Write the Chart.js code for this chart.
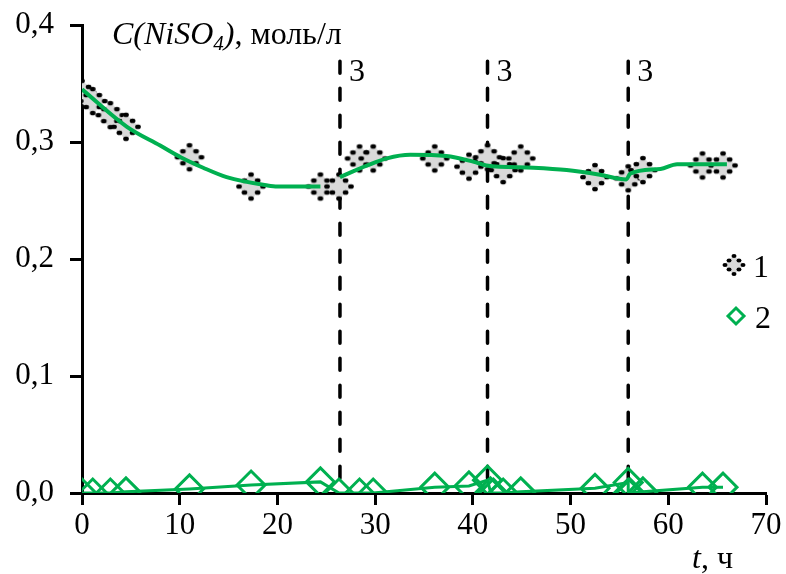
<!DOCTYPE html>
<html>
<head>
<meta charset="utf-8">
<script src="https://cdn.jsdelivr.net/npm/chart.js@4/dist/chart.umd.min.js"></script>
<style>
  html, body { margin: 0; padding: 0; background: #fff; }
  #wrap { width: 786px; height: 574px; position: relative; }
</style>
</head>
<body>
<div id="wrap"><canvas id="chart"></canvas></div>
<script>
// Series 1: NiSO4 concentration, mol/l, measured over time (h)
const timesNi = [0, 1.1, 2.9, 4.5, 11, 17.3, 24.4, 26.3, 28.4, 29.8, 36.1, 39.6, 41.5, 43.1, 44.9, 52.5, 55.9, 57.4, 63.5, 65.6];
const concNi  = [0.342, 0.335, 0.323, 0.313, 0.287, 0.262, 0.262, 0.262, 0.286, 0.286, 0.286, 0.279, 0.287, 0.276, 0.286, 0.270, 0.269, 0.276, 0.280, 0.280];

// Series 2: second component, mol/l
const times2 = [0, 1.1, 2.9, 4.5, 11, 17.3, 24.4, 26.3, 28.4, 29.8, 36.1, 39.6, 41.5, 41.8, 42.1, 43.1, 44.9, 52.5, 55.9, 55.9, 56.1, 57.4, 63.5, 65.6];
const conc2  = [0, 0, 0, 0.001, 0.0035, 0.0068, 0.0095, 0, 0, 0, 0.005, 0.006, 0.011, 0.001, 0, 0, 0.001, 0.004, 0.009, 0, 0, 0.001, 0.005, 0.005];

// Smoothed trend of series 1: before the first addition and after it
const trendTimesA = [0, 4.6, 8.0, 10.1, 12.4, 14.8, 18.9, 20, 24.4];
const trendA      = [0.345, 0.313, 0.297, 0.287, 0.278, 0.270, 0.263, 0.262, 0.262];
const trendTimesB = [26.4, 29.2, 31.2, 33.6, 37.3, 40.1, 41.4, 46.2, 49.6, 53.0, 55.7, 56.1, 59.2, 60.9, 66.0];
const trendB      = [0.270, 0.280, 0.286, 0.289, 0.288, 0.283, 0.280, 0.278, 0.276, 0.272, 0.268, 0.273, 0.277, 0.281, 0.281];

// Moments of reagent addition (marked "3")
const additionTimes = [26.4, 41.5, 55.9];
const additionLabel = '3';
const additionTop = 0.369;

// Axis ticks
const xTicks = [0, 10, 20, 30, 40, 50, 60, 70];
const yTicks = [0, 0.1, 0.2, 0.3, 0.4];

const seriesLabels = ['1', '2'];

const GREEN = '#00b050';
const SERIF = "'Liberation Serif', 'Times New Roman', serif";
const FS = 32;
const TICK_FS = 31;

const pts = (xs, ys) => xs.map((x, i) => ({ x: x, y: ys[i] }));

// Gray diamond marker with a dotted black outline
function dottedDiamond(r, dot) {
  const s = 2 * r + 10, c = document.createElement('canvas');
  c.width = s; c.height = s;
  const g = c.getContext('2d');
  const m = s / 2;
  g.fillStyle = '#d9d9d9';
  g.beginPath();
  g.moveTo(m, m - r); g.lineTo(m + r, m); g.lineTo(m, m + r); g.lineTo(m - r, m);
  g.closePath(); g.fill();
  g.fillStyle = '#000';
  const d = [[0, -1], [0.55, -0.5], [1, 0], [0.55, 0.5], [0, 1], [-0.55, 0.5], [-1, 0], [-0.55, -0.5]];
  d.forEach(([a, b]) => {
    g.beginPath();
    g.ellipse(m + a * (r - 1), m + b * (r - 1), dot * 1.25, dot, 0, 0, Math.PI * 2);
    g.fill();
  });
  return c;
}
const markerNi = dottedDiamond(13, 2.3);
const legendNi = dottedDiamond(10, 2.0);

const datasets = [
  {
    label: 'trendA', data: pts(trendTimesA, trendA),
    borderColor: GREEN, borderWidth: 4, pointRadius: 0, fill: false,
    cubicInterpolationMode: 'monotone', order: 0
  },
  {
    label: 'trendB', data: pts(trendTimesB, trendB),
    borderColor: GREEN, borderWidth: 4, pointRadius: 0, fill: false,
    cubicInterpolationMode: 'monotone', order: 0
  },
  {
    label: seriesLabels[0], data: pts(timesNi, concNi),
    showLine: false, pointStyle: markerNi, pointRadius: 13, pointHoverRadius: 13,
    order: 1
  },
  {
    label: seriesLabels[1], data: pts(times2, conc2),
    borderColor: GREEN, borderWidth: 3, tension: 0,
    pointStyle: 'rectRot', pointRadius: 14, pointHoverRadius: 14,
    pointBorderColor: GREEN, pointBackgroundColor: 'rgba(0,0,0,0)', pointBorderWidth: 3,
    order: 2
  }
].concat(additionTimes.map((t, i) => ({
  label: 'add' + i,
  data: [{ x: t, y: additionTop }, { x: t, y: 0 }],
  borderColor: '#000', borderWidth: 3.5, borderDash: [12, 15], borderCapStyle: 'round',
  pointRadius: 0, fill: false, order: 5
})));

const annotate = {
  id: 'annotate',
  afterDraw(chart) {
    const ctx = chart.ctx;
    const xs = chart.scales.x;
    ctx.save();
    ctx.fillStyle = '#000';
    ctx.textBaseline = 'alphabetic';
    ctx.textAlign = 'left';

    // "3" next to each addition line
    ctx.font = FS + 'px ' + SERIF;
    additionTimes.forEach(t => {
      ctx.fillText(additionLabel, xs.getPixelForValue(t) + 9, 81);
    });

    // Y-axis title: C(NiSO4), моль/л
    let x = 112; const base = 44;
    ctx.font = 'italic ' + FS + 'px ' + SERIF;
    ctx.fillText('C(NiSO', x, base); x += ctx.measureText('C(NiSO').width;
    ctx.font = 'italic ' + Math.round(FS * 0.66) + 'px ' + SERIF;
    ctx.fillText('4', x, base + 6); x += ctx.measureText('4').width;
    ctx.font = 'italic ' + FS + 'px ' + SERIF;
    ctx.fillText(')', x, base); x += ctx.measureText(')').width;
    ctx.font = FS + 'px ' + SERIF;
    ctx.fillText(', моль/л', x, base);

    // X-axis title: t, ч
    x = 692;
    ctx.font = 'italic ' + FS + 'px ' + SERIF;
    ctx.fillText('t', x, 568); x += ctx.measureText('t').width;
    ctx.font = FS + 'px ' + SERIF;
    ctx.fillText(', ч', x, 568);

    // Legend
    ctx.drawImage(legendNi, 734 - legendNi.width / 2, 265 - legendNi.height / 2);
    ctx.fillText(seriesLabels[0], 753, 277);
    ctx.strokeStyle = GREEN; ctx.lineWidth = 3;
    const cx = 736, cy = 316, r = 8;
    ctx.beginPath();
    ctx.moveTo(cx - r, cy); ctx.lineTo(cx, cy - r); ctx.lineTo(cx + r, cy); ctx.lineTo(cx, cy + r);
    ctx.closePath(); ctx.stroke();
    ctx.fillText(seriesLabels[1], 755, 328);
    ctx.restore();
  }
};

new Chart(document.getElementById('chart'), {
  type: 'line',
  data: { datasets: datasets },
  plugins: [annotate],
  options: {
    responsive: true,
    maintainAspectRatio: false,
    animation: false,
    events: [],
    layout: { padding: { left: 0, top: 25, right: 20, bottom: 0 } },
    plugins: { legend: { display: false }, tooltip: { enabled: false } },
    scales: {
      x: {
        type: 'linear', min: 0, max: 70,
        afterBuildTicks: s => { s.ticks = xTicks.map(v => ({ value: v })); },
        afterFit: s => { s.height = 81; s.paddingLeft = 0; s.paddingRight = 0; },
        grid: { drawOnChartArea: false, drawTicks: true, tickLength: 12, tickColor: '#000', tickWidth: 3 },
        border: { display: true, color: '#000', width: 3 },
        ticks: { color: '#000', padding: 2, font: { family: SERIF, size: TICK_FS }, maxRotation: 0 }
      },
      y: {
        type: 'linear', min: 0, max: 0.4,
        afterBuildTicks: s => { s.ticks = yTicks.map(v => ({ value: v })); },
        afterFit: s => { s.width = 82; s.paddingTop = 0; s.paddingBottom = 0; },
        grid: { drawOnChartArea: false, drawTicks: true, tickLength: 12, tickColor: '#000', tickWidth: 3 },
        border: { display: true, color: '#000', width: 3 },
        ticks: {
          color: '#000', padding: 16, font: { family: SERIF, size: TICK_FS },
          callback: v => v.toFixed(1).replace('.', ',')
        }
      }
    }
  }
});
</script>
</body>
</html>
